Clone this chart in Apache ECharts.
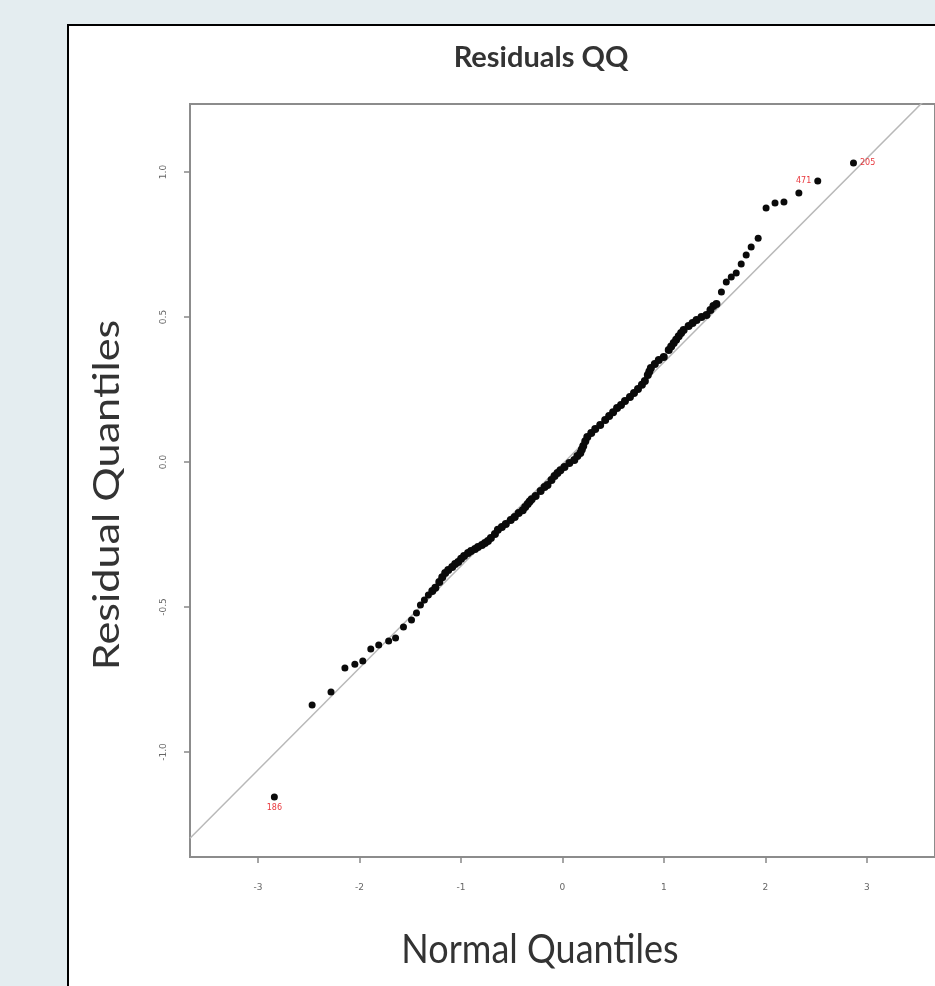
<!DOCTYPE html>
<html>
<head>
<meta charset="utf-8">
<script src="https://cdn.jsdelivr.net/npm/echarts@6/dist/echarts.min.js"></script>
<style>
html,body{margin:0;padding:0;width:935px;height:986px;overflow:hidden;background:#e4edf0;}
#panel{position:absolute;left:67px;top:24px;width:900px;height:1000px;background:#fff;border:2px solid #000;}
#chart{position:absolute;left:0;top:0;width:935px;height:986px;}
</style>
</head>
<body>
<div id="panel"></div>
<div id="chart"></div>
<script>
// Normal (theoretical) quantiles
const normalQ = [
-2.838,-2.466,-2.280,-2.143,-2.045,-1.967,-1.888,-1.810,-1.712,-1.644,
-1.566,-1.487,-1.438,-1.399,-1.360,-1.321,-1.282,-1.252,-1.213,-1.184,
-1.155,-1.125,-1.086,-1.057,-1.027,-0.998,-0.969,-0.930,-0.900,-0.861,
-0.832,-0.793,-0.763,-0.734,-0.705,-0.665,-0.636,-0.597,-0.558,-0.509,
-0.470,-0.431,-0.391,-0.367,-0.342,-0.323,-0.303,-0.264,-0.215,-0.176,-0.147,-0.108,
-0.078,-0.049,-0.020,0.020,0.068,0.117,0.147,0.176,0.191,0.205,0.225,
0.245,0.284,0.323,0.372,0.421,0.460,0.499,0.538,0.577,0.616,
0.665,0.705,0.744,0.783,0.812,0.841,0.856,0.871,0.910,0.949,0.998,
1.047,1.071,1.096,1.120,1.145,1.169,1.194,1.243,1.282,1.321,1.370,1.419,1.458,
1.487,1.517,1.566,1.614,1.663,1.712,1.761,1.810,1.859,1.928,
2.006,2.094,2.182,2.329,2.515,2.867
];
// Residual (sample) quantiles
const residQ = [
-1.155,-0.838,-0.793,-0.710,-0.697,-0.686,-0.645,-0.631,-0.617,-0.607,
-0.569,-0.545,-0.521,-0.493,-0.476,-0.459,-0.445,-0.434,-0.414,-0.397,
-0.383,-0.372,-0.362,-0.352,-0.345,-0.334,-0.324,-0.314,-0.307,-0.300,
-0.293,-0.286,-0.279,-0.272,-0.262,-0.248,-0.234,-0.224,-0.214,-0.200,
-0.190,-0.176,-0.166,-0.155,-0.145,-0.136,-0.128,-0.117,-0.100,-0.086,-0.079,-0.062,
-0.048,-0.038,-0.028,-0.017,-0.003,0.007,0.021,0.031,0.043,0.055,0.072,
0.086,0.100,0.114,0.128,0.145,0.159,0.172,0.186,0.197,0.210,
0.224,0.238,0.252,0.266,0.279,0.300,0.312,0.324,0.338,0.352,0.362,
0.386,0.398,0.410,0.422,0.434,0.445,0.455,0.469,0.479,0.490,0.500,0.507,0.524,
0.538,0.545,0.586,0.621,0.638,0.652,0.683,0.714,0.741,0.772,
0.876,0.893,0.897,0.928,0.969,1.031
];
// Labelled extreme points: normal quantile of the point, label text, label side
const labelAtX = [-2.838, 2.515, 2.867];
const labelText = ['186', '471', '205'];
const labelSide = ['bottom', 'left', 'right'];
// Reference line (intercept, slope)
const refIntercept = -0.007;
const refSlope = 0.3516;
// Axis ranges and ticks
const xRange = [-3.669, 3.670];
const yRange = [-1.362, 1.2345];
const xTicks = [-3, -2, -1, 0, 1, 2, 3];
const yTicks = [-1, -0.5, 0, 0.5, 1];
// Range of the dense (continuous-looking) part of the point band
const denseRange = [-1.30, 1.55];

const pts = normalQ.map((x, i) => {
  const k = labelAtX.indexOf(x);
  if (k < 0) return [x, residQ[i]];
  return {
    value: [x, residQ[i]],
    label: {show: true, formatter: labelText[k], position: labelSide[k],
            distance: 3, color: '#e8383d', fontSize: 8, fontFamily: 'DejaVu Sans'}
  };
});
const refData = [
  [xRange[0], refIntercept + refSlope * xRange[0]],
  [xRange[1], refIntercept + refSlope * xRange[1]]
];

const chart = echarts.init(document.getElementById('chart'), null, {renderer: 'canvas'});
const axisLbl = {color: '#666', fontSize: 9, fontFamily: 'DejaVu Sans'};
chart.setOption({
  backgroundColor: 'transparent',
  animation: false,
  title: {
    text: 'Residuals QQ', left: 536, top: 38, textAlign: 'center',
    textStyle: {fontFamily: 'Lato', fontWeight: 'bold', fontSize: 29, color: '#333'}
  },
  grid: {
    left: 190, top: 104, width: 750, height: 753,
    show: true, borderColor: '#8c8c8c', borderWidth: 2, backgroundColor: 'transparent',
    containLabel: false
  },
  xAxis: {
    type: 'value', min: xRange[0], max: xRange[1],
    axisLine: {show: false, onZero: false},
    splitLine: {show: false},
    axisTick: {show: true, length: 6, customValues: xTicks, lineStyle: {color: '#888', width: 1.5}},
    axisLabel: {customValues: xTicks, margin: 26, ...axisLbl, formatter: v => String(v)}
  },
  yAxis: {
    type: 'value', min: yRange[0], max: yRange[1],
    axisLine: {show: false, onZero: false},
    splitLine: {show: false},
    axisTick: {show: true, length: 6, customValues: yTicks, lineStyle: {color: '#888', width: 1.5}},
    axisLabel: {customValues: yTicks, rotate: 90, margin: 22, ...axisLbl,
                formatter: v => v.toFixed(1)}
  },
  graphic: [
    {type: 'text', x: 540, y: 950, scaleX: 1, scaleY: 1.15,
      style: {text: 'Normal Quantiles', x: 0, y: 0,
      textAlign: 'center', textVerticalAlign: 'middle', font: '36px Lato', fill: '#333'}},
    {type: 'text', rotation: Math.PI / 2, x: 107, y: 495, scaleX: 1.2, scaleY: 1,
      style: {text: 'Residual Quantiles', x: 0, y: 0, textAlign: 'center', textVerticalAlign: 'middle',
      font: '36px Lato', fill: '#333'}}
  ],
  series: [
    {type: 'line', data: refData, symbol: 'none', clip: true, silent: true,
     lineStyle: {color: '#b8b8b8', width: 1.5}, z: 1},
    {type: 'scatter', data: pts, symbol: 'circle',
     symbolSize: v => (v[0] > denseRange[0] && v[0] < denseRange[1]) ? 8 : 7,
     itemStyle: {color: '#0a0a0a', opacity: 1}, z: 3}
  ]
});
</script>
</body>
</html>
